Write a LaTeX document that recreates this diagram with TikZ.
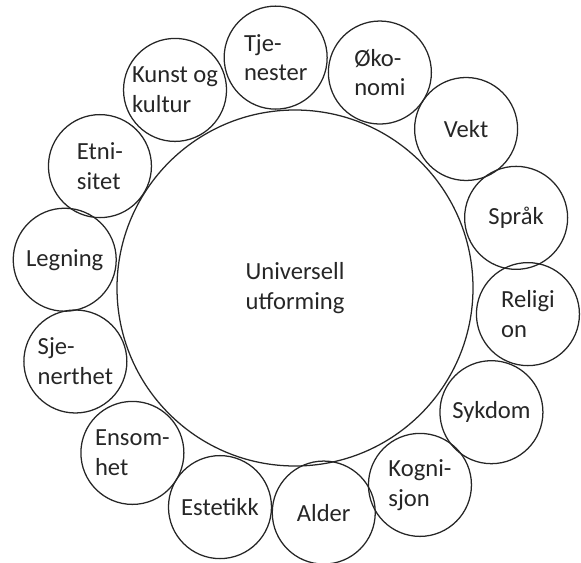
\documentclass[tikz,border=0pt]{standalone}
\usepackage{fontspec}
\setmainfont{Carlito}
\usepackage{xcolor}
\usepackage{tikz}
\usetikzlibrary{positioning}
\definecolor{ink}{RGB}{38,38,38}
\newcommand{\ringfont}{\fontsize{17.5}{21.3}\selectfont}

\begin{document}
\begin{tikzpicture}[
  c/.style={draw=ink, circle, line width=0.9pt, minimum size=2.575cm, inner sep=0pt, align=left, font=\ringfont, text=ink},
  hub/.style={c, minimum size=8.9cm}]
\useasboundingbox (-7.375,-6.85) rectangle (7.15,7.2);
\node[hub] (uu) at (0,0) {Universell\\utforming};
% ring of factors, clockwise from the left
\node[c] (legning) at (173:5.8) {Legning};
\node[c] (etni) at (148:5.75) {Etni-\\sitet};
\node[c] (kunst) at (121.2:5.79) {Kunst og\\kultur};
\node[c] (tjen) at (94.8:5.78) {Tje-\\nester};
\node[c] (okon) at (68.5:5.79) {Øko-\\nomi};
\node[c] (vekt) at (42.9:5.84) {Vekt};
\node[c] (sprak) at (17.6:5.8) {Språk};
\node[c] (relig) at (-6.4:5.86) {Religi\\on};
\node[c] (sykd) at (-32.3:5.81) {Sykdom};
\node[c] (kogn) at (-57.6:5.83) {Kogni-\\sjon};
\node[c] (alder) at (-82.7:5.66) {Alder};
\node[c] (estet) at (-108.9:5.79) {Estetikk};
\node[c] (ensom) at (-134.6:5.79) {Ensom-\\het};
\node[c] (sjen) at (-161.5:5.79) {Sje-\\nerthet};
\end{tikzpicture}
\end{document}
